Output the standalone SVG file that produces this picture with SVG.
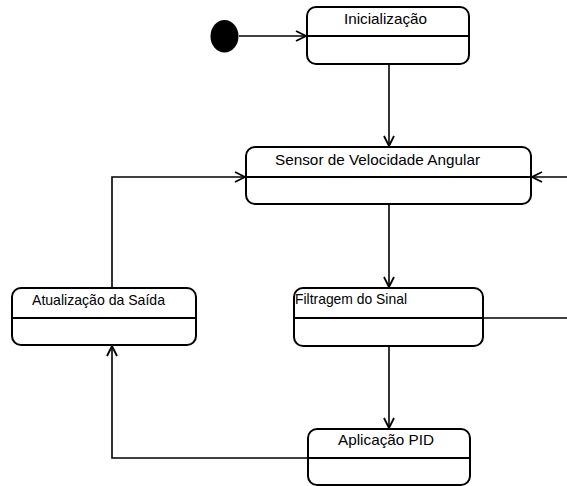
<svg xmlns="http://www.w3.org/2000/svg" width="567" height="486" viewBox="0 0 567 486">
  <style>
    .state rect { fill: #ffffff; stroke: #000000; stroke-width: 2; }
    .state line { stroke: #000000; stroke-width: 1.8; }
    .state text { font-family: "Liberation Sans", Arial, sans-serif; font-size: 15px; fill: #000000; }
    .edge { fill: none; stroke: #000000; stroke-width: 1.6; }
  </style>
  <defs>
    <marker id="open-arrow" viewBox="0 0 12 12" refX="11" refY="6" markerWidth="12" markerHeight="12" markerUnits="userSpaceOnUse" orient="auto">
      <path d="M1,1 L11,6 L1,11" fill="none" stroke="#000000" stroke-width="1.8"/>
    </marker>
  </defs>

  <rect width="567" height="486" fill="#ffffff"/>

  <!-- connectors -->
  <g id="connectors">
    <path class="edge" d="M239,36 H306" marker-end="url(#open-arrow)"/>
    <path class="edge" d="M389,64 V146" marker-end="url(#open-arrow)"/>
    <path class="edge" d="M389,204 V287" marker-end="url(#open-arrow)"/>
    <path class="edge" d="M389,346 V428" marker-end="url(#open-arrow)"/>
    <path class="edge" d="M308,458 H112 V346" marker-end="url(#open-arrow)"/>
    <path class="edge" d="M112,288 V177 H245" marker-end="url(#open-arrow)"/>
    <path class="edge" d="M483,318 H572 V177 H532" marker-end="url(#open-arrow)"/>
  </g>

  <!-- initial pseudo-state -->
  <g id="start">
    <ellipse cx="224.5" cy="36.3" rx="14" ry="16.3" fill="#000000"/>
  </g>

  <g id="inicializacao" class="state">
    <rect x="307" y="7" width="162" height="57" rx="9" ry="9"/>
    <line x1="307" y1="36" x2="469" y2="36"/>
    <text x="344" y="23.5" textLength="83" lengthAdjust="spacingAndGlyphs">Inicialização</text>
  </g>

  <g id="sensor" class="state">
    <rect x="246" y="147" width="285" height="57" rx="9" ry="9"/>
    <line x1="246" y1="177" x2="531" y2="177"/>
    <text x="275" y="164.5" textLength="205" lengthAdjust="spacingAndGlyphs">Sensor de Velocidade Angular</text>
  </g>

  <g id="atualizacao" class="state">
    <rect x="12" y="288" width="184" height="57" rx="9" ry="9"/>
    <line x1="12" y1="318" x2="196" y2="318"/>
    <text x="32" y="305" textLength="133" lengthAdjust="spacingAndGlyphs">Atualização da Saída</text>
  </g>

  <g id="filtragem" class="state">
    <rect x="294" y="288" width="189" height="58" rx="9" ry="9"/>
    <line x1="294" y1="318" x2="483" y2="318"/>
    <text x="295" y="304" textLength="112" lengthAdjust="spacingAndGlyphs">Filtragem do Sinal</text>
  </g>

  <g id="pid" class="state">
    <rect x="308" y="429" width="162" height="56" rx="9" ry="9"/>
    <line x1="308" y1="458" x2="470" y2="458"/>
    <text x="338" y="445" textLength="96" lengthAdjust="spacingAndGlyphs">Aplicação PID</text>
  </g>
</svg>
